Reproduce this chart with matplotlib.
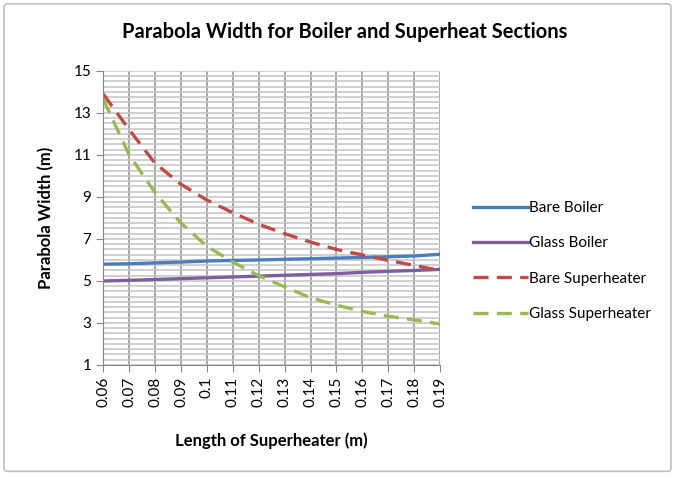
import matplotlib.pyplot as plt
from matplotlib.patches import FancyBboxPatch
from matplotlib.ticker import MultipleLocator

lengths = ["0.06", "0.07", "0.08", "0.09", "0.1", "0.11", "0.12",
           "0.13", "0.14", "0.15", "0.16", "0.17", "0.18", "0.19"]
bare_boiler = [5.8, 5.82, 5.86, 5.9, 5.95, 5.98, 6.0, 6.03, 6.06, 6.09, 6.12, 6.15, 6.19, 6.27]
glass_boiler = [5.0, 5.03, 5.07, 5.11, 5.15, 5.19, 5.23, 5.27, 5.31, 5.35, 5.41, 5.46, 5.5, 5.55]
bare_superheater = [13.9, 12.2, 10.6, 9.6, 8.85, 8.25, 7.7, 7.25, 6.85, 6.5, 6.24, 5.98, 5.74, 5.5]
glass_superheater = [13.65, 11.0, 9.2, 7.75, 6.65, 5.9, 5.25, 4.72, 4.2, 3.85, 3.55, 3.32, 3.15, 2.95]
y_ticks = [1, 3, 5, 7, 9, 11, 13, 15]

plt.rcParams['font.family'] = ['Lato', 'DejaVu Sans']

fig = plt.figure(figsize=(6.75, 4.79), dpi=100)
fig.patches.append(FancyBboxPatch((0.006, 0.016), 0.988, 0.976,
                                  boxstyle="round,pad=0,rounding_size=0.006",
                                  transform=fig.transFigure, fill=False,
                                  edgecolor='#bfbfbf', linewidth=1.2))

ax = fig.add_axes([0.153, 0.238, 0.499, 0.614])
x = range(len(lengths))

ax.plot(x, bare_boiler, color='#4a7ebb', lw=2.4, label='Bare Boiler')
ax.plot(x, glass_boiler, color='#7d5fa0', lw=2.4, label='Glass Boiler')
ax.plot(x, bare_superheater, color='#be4b48', lw=2.4, dashes=(4.5, 2.5), label='Bare Superheater')
ax.plot(x, glass_superheater, color='#98b954', lw=2.4, dashes=(4.5, 2.5), label='Glass Superheater')

ax.set_xlim(0, len(lengths) - 1)
ax.set_ylim(1, 15)
ax.set_xticks(list(x))
ax.set_xticklabels(lengths, rotation=90, fontsize=11)
ax.set_yticks(y_ticks)
ax.set_yticklabels([str(v) for v in y_ticks], fontsize=11)
ax.yaxis.set_minor_locator(MultipleLocator(0.25))
ax.tick_params(axis='y', which='major', length=5, color='#868686')
ax.tick_params(axis='y', which='minor', length=0)
ax.tick_params(axis='x', length=5, color='#868686')

ax.grid(True, axis='x', color='#a0a0a0', lw=1.3)
ax.grid(True, axis='y', which='both', color='#c4c4c4', lw=1.1)
ax.set_axisbelow(True)
for side in ('top', 'right'):
    ax.spines[side].set_visible(False)
for side in ('left', 'bottom'):
    ax.spines[side].set_color('#868686')

ax.set_xlabel('Length of Superheater (m)', fontsize=12, fontweight='bold', labelpad=18)
ax.set_ylabel('Parabola Width (m)', fontsize=12, fontweight='bold', labelpad=14)
fig.suptitle('Parabola Width for Boiler and Superheat Sections',
             x=0.51, y=0.955, fontsize=14.5, fontweight='bold')

fig.legend(loc='center left', bbox_to_anchor=(0.68, 0.455), frameon=False,
           fontsize=11, handlelength=3.6, handletextpad=0.1, labelspacing=1.4)

fig.savefig('out.png', dpi=100)
